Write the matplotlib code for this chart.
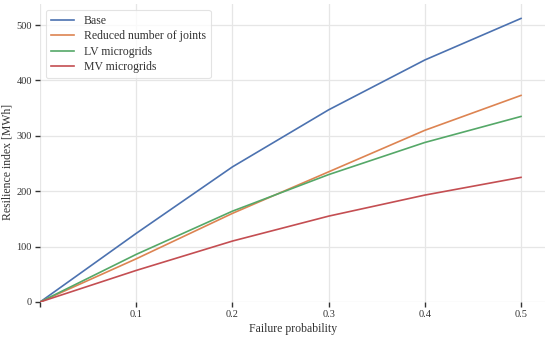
import matplotlib
matplotlib.use("Agg")
import matplotlib.pyplot as plt

plt.rcParams['font.family'] = ['Liberation Serif', 'DejaVu Serif']

prob = [0.0, 0.1, 0.2, 0.3, 0.4, 0.5]
base = [0, 124, 244, 347, 437, 512]
reduced_joints = [0, 78, 160, 235, 310, 373]
lv_micro = [0, 86, 164, 230, 288, 335]
mv_micro = [0, 57, 110, 155, 193, 225]

labels = ['Base', 'Reduced number of joints', 'LV microgrids', 'MV microgrids']
colors = ['#4C72B0', '#DD8452', '#55A868', '#C44E52']

fig = plt.figure(figsize=(5.5, 3.37), dpi=100)
ax = fig.add_axes([0.073, 0.104, 0.918, 0.884])

for ys, lab, c in zip([base, reduced_joints, lv_micro, mv_micro], labels, colors):
    ax.plot(prob, ys, color=c, lw=1.2, label=lab)

ax.set_xlim(0, 0.525)
ax.set_ylim(0, 538)
ax.set_xticks([0, 0.1, 0.2, 0.3, 0.4, 0.5])
ax.set_xticklabels(['', '0.1', '0.2', '0.3', '0.4', '0.5'])
ax.set_yticks([0, 100, 200, 300, 400, 500])

ax.grid(True, color='#e6e6e6', lw=0.9)
ax.set_axisbelow(True)
for s in ax.spines.values():
    s.set_visible(False)
ax.tick_params(axis='both', length=3.5, width=1, color='#333333', labelsize=7.5, labelcolor='#333333', pad=2.5)

ax.set_xlabel('Failure probability', fontsize=8.5, color='#333333', labelpad=3)
ax.set_ylabel('Resilience index [MWh]', fontsize=8.5, color='#333333')
ax.yaxis.set_label_coords(-0.052, 0.47)

leg = ax.legend(loc='upper left', fontsize=8.5, frameon=True, fancybox=True,
                borderpad=0.4, labelspacing=0.3, handlelength=2.0, handletextpad=0.8)
leg.get_frame().set_edgecolor('#dddddd')
leg.get_frame().set_linewidth(0.8)
for t in leg.get_texts():
    t.set_color('#333333')

fig.savefig('out.png', dpi=100)
